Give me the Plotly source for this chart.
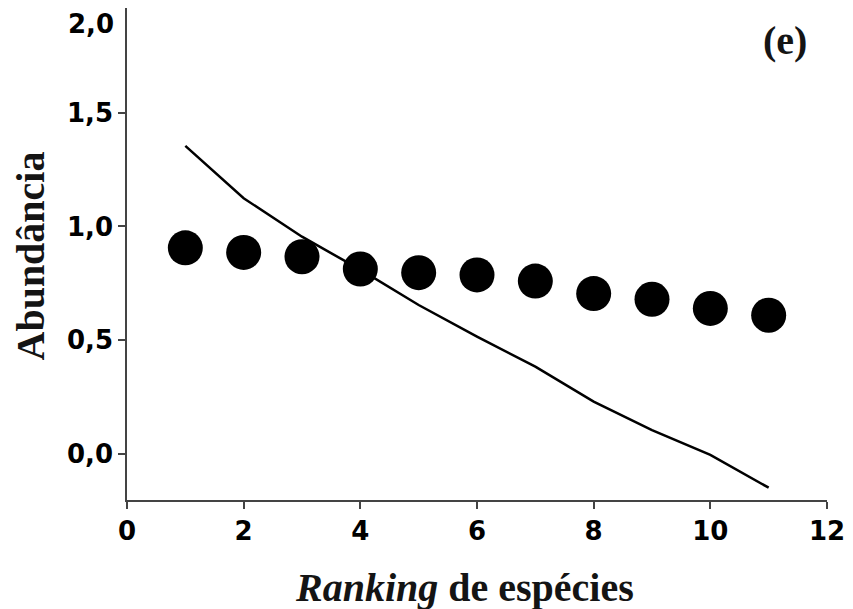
import plotly.graph_objects as go

ranks = [1, 2, 3, 4, 5, 6, 7, 8, 9, 10, 11]
observed = [0.906, 0.886, 0.867, 0.813, 0.797, 0.787, 0.760, 0.705, 0.680, 0.640, 0.610]
expected = [1.354, 1.124, 0.955, 0.81, 0.655, 0.516, 0.384, 0.23, 0.105, -0.004, -0.148]

x_ticks = [0, 2, 4, 6, 8, 10, 12]
y_ticks = [0.0, 0.5, 1.0, 1.5]
y_tick_labels = ["0,0", "0,5", "1,0", "1,5"]

# page offset of the figure inside the browser page (default body margin)
OFF = 8
# plot area in page pixels
L, R, T, B = 127, 827, 8, 500
W, H = 853 - OFF, 609 - OFF
PW, PH = R - L, B - T


def px(xp):
    return (xp - L) / PW


def py(yp):
    return (B - yp) / PH


fig = go.Figure()
fig.add_trace(go.Scatter(x=ranks, y=expected, mode="lines",
                         line=dict(color="black", width=2.5), showlegend=False))
fig.add_trace(go.Scatter(x=ranks, y=observed, mode="markers",
                         marker=dict(color="black", size=35, line=dict(width=0)),
                         showlegend=False))

tick_font = dict(family="DejaVu Sans", size=26, color="black", weight="bold")
axis_common = dict(showgrid=False, zeroline=False, showline=True, automargin=False,
                   linecolor="#444444", linewidth=1.5, ticks="outside",
                   tickcolor="#444444", tickwidth=1.5, ticklen=7,
                   tickfont=tick_font)

title_font = dict(family="Liberation Serif, Times New Roman", size=40, color="#141414")

fig.update_layout(
    width=W, height=H,
    margin=dict(l=L - OFF, r=853 - R, t=T - OFF, b=609 - B, pad=0),
    paper_bgcolor="white", plot_bgcolor="white",
    xaxis=dict(range=[0, 12], tickvals=x_ticks, **axis_common),
    yaxis=dict(range=[-0.202, 1.96], tickvals=y_ticks, ticktext=y_tick_labels,
               **axis_common),
    annotations=[
        dict(text="2,0", xref="paper", x=0, xanchor="right", xshift=-11,
             yref="y", y=1.89, yanchor="middle", showarrow=False,
             font=tick_font),
        dict(text="<b>(e)</b>", xref="paper", x=px(785), xanchor="center",
             yref="paper", y=py(40), yanchor="middle", showarrow=False,
             font=title_font),
        dict(text="<b>Abundância</b>", xref="paper", x=px(29.5), xanchor="center",
             yref="paper", y=py(256), yanchor="middle", textangle=-90,
             showarrow=False, font=title_font),
        dict(text="<b><i>Ranking</i> de espécies</b>", xref="paper", x=px(464),
             xanchor="center", yref="paper", y=py(587), yanchor="middle",
             showarrow=False, font=title_font),
    ],
)

fig.write_html("out.html")
